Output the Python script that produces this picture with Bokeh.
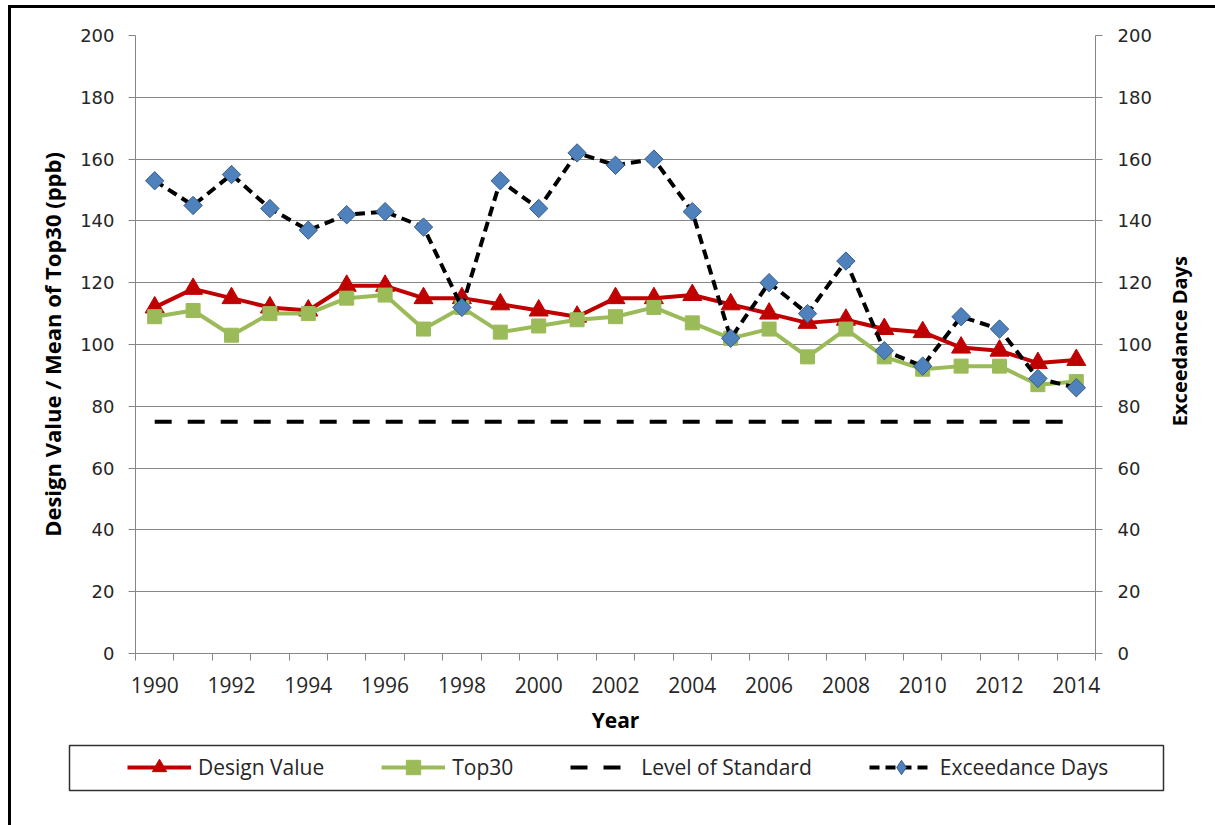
import math
from bokeh.plotting import figure
from bokeh.models import Range1d, LinearAxis, FixedTicker, Legend, LegendItem, Label
from bokeh.layouts import column, row
from bokeh.embed import file_html
from bokeh.resources import INLINE

# ---------------- data ----------------
years = [1990, 1991, 1992, 1993, 1994, 1995, 1996, 1997, 1998, 1999, 2000, 2001, 2002,
         2003, 2004, 2005, 2006, 2007, 2008, 2009, 2010, 2011, 2012, 2013, 2014]
design_value = [112, 118, 115, 112, 111, 119, 119, 115, 115, 113, 111, 109, 115,
                115, 116, 113, 110, 107, 108, 105, 104, 99, 98, 94, 95]
top30 = [109, 111, 103, 110, 110, 115, 116, 105, 112, 104, 106, 108, 109,
         112, 107, 102, 105, 96, 105, 96, 92, 93, 93, 87, 88]
level_of_standard = [75, 75, 75, 75, 75, 75, 75, 75, 75, 75, 75, 75, 75,
                     75, 75, 75, 75, 75, 75, 75, 75, 75, 75, 75, 75]
exceedance_days = [153, 145, 155, 144, 137, 142, 143, 138, 112, 153, 144, 162, 158,
                   160, 143, 102, 120, 110, 127, 98, 93, 109, 105, 89, 86]
label_years = [1990, 1992, 1994, 1996, 1998, 2000, 2002, 2004, 2006, 2008, 2010, 2012, 2014]
tick_labels = ["1990", "1992", "1994", "1996", "1998", "2000", "2002", "2004", "2006",
               "2008", "2010", "2012", "2014"]
y_ticks = [0, 20, 40, 60, 80, 100, 120, 140, 160, 180, 200]
series_names = ["Design Value", "Top30", "Level of Standard", "Exceedance Days"]
left_title = "Design Value / Mean of Top30 (ppb)"
right_title = "Exceedance Days"
x_title = "Year"

# ---------------- style ----------------
RED = "#C00000"
GREEN = "#9BBB59"
BLUE = "#4F81BD"
BLUE_DARK = "#385D8A"
GRAY = "#868686"
TXT = "#262626"
FONT = "Open Sans"

MAIN_W, MAIN_H = 1146, 736
SIDE_W = 58
LEG_H = 81
TOTAL_W = MAIN_W + SIDE_W
FRAME_TOP, FRAME_BOTTOM_BORDER = 27, 91

p = figure(width=MAIN_W, height=MAIN_H,
           x_range=Range1d(years[0] - 0.5, years[-1] + 0.5),
           y_range=Range1d(0, 200),
           output_backend="svg", toolbar_location=None,
           min_border_left=124, min_border_right=62,
           min_border_top=FRAME_TOP, min_border_bottom=FRAME_BOTTOM_BORDER)
p.extra_y_ranges = {"days": Range1d(0, 200)}
p.outline_line_color = None
p.background_fill_color = "white"
p.border_fill_color = "white"

# x axis
xa = p.xaxis[0]
boundaries = [years[0] - 0.5 + i for i in range(len(years) + 1)]
xa.ticker = FixedTicker(ticks=label_years, minor_ticks=boundaries)
xa.major_label_overrides = dict(zip(label_years, tick_labels))
xa.major_tick_line_color = None
xa.major_tick_out = 0
xa.major_tick_in = 0
xa.minor_tick_line_color = GRAY
xa.minor_tick_out = 7
xa.minor_tick_in = 0
xa.axis_line_color = GRAY
xa.major_label_text_font = FONT
xa.major_label_text_font_size = "21px"
xa.major_label_text_color = TXT
xa.major_label_standoff = 16
xa.axis_label = x_title
xa.axis_label_text_font = FONT
xa.axis_label_text_font_style = "bold"
xa.axis_label_text_font_size = "21px"
xa.axis_label_text_color = "black"
xa.axis_label_standoff = 10

# left y axis
ya = p.yaxis[0]
ya.ticker = FixedTicker(ticks=y_ticks)
ya.major_tick_out = 7
ya.major_tick_in = 0
ya.major_tick_line_color = GRAY
ya.minor_tick_line_color = None
ya.axis_line_color = GRAY
ya.major_label_text_font = "DejaVu Sans"
ya.major_label_text_font_size = "18px"
ya.major_label_text_color = TXT
ya.major_label_standoff = 14
ya.axis_label = left_title
ya.axis_label_text_font = FONT
ya.axis_label_text_font_style = "bold"
ya.axis_label_text_font_size = "22px"
ya.axis_label_text_color = "black"
ya.axis_label_standoff = 10

# right y axis (its title is drawn in the side strip so it reads bottom-to-top)
ra = LinearAxis(y_range_name="days", ticker=FixedTicker(ticks=y_ticks))
ra.major_tick_out = 7
ra.major_tick_in = 0
ra.major_tick_line_color = GRAY
ra.minor_tick_line_color = None
ra.axis_line_color = GRAY
ra.major_label_text_font = "DejaVu Sans"
ra.major_label_text_font_size = "18px"
ra.major_label_text_color = TXT
ra.major_label_standoff = 15
p.add_layout(ra, "right")

# grid
p.xgrid.visible = False
p.ygrid.ticker = FixedTicker(ticks=y_ticks)
p.ygrid.grid_line_color = GRAY
p.ygrid.grid_line_width = 1

# series
line_styles = [
    dict(line_color=RED, line_width=4, line_join="round"),
    dict(line_color=GREEN, line_width=4, line_join="round"),
    dict(line_color="black", line_width=4, line_dash="17 16"),
    dict(line_color="black", line_width=4, line_dash="10 6", line_join="round"),
]
tri_style = dict(marker="triangle", size=19, fill_color=RED, line_color=RED)
sq_style = dict(marker="square", size=14, fill_color=GREEN, line_color=GREEN)

r1 = p.line(years, design_value, **line_styles[0])
m1 = p.scatter(years, design_value, **tri_style)
r2 = p.line(years, top30, **line_styles[1])
m2 = p.scatter(years, top30, **sq_style)
r3 = p.line(years, level_of_standard, **line_styles[2])
r4 = p.line(years, exceedance_days, y_range_name="days", **line_styles[3])
m4 = p.scatter(years, exceedance_days, marker="square", angle=math.pi / 4, size=13,
               fill_color=BLUE, line_color=BLUE_DARK, line_width=1, y_range_name="days")

# side strip holding the right-axis title
p3 = figure(width=SIDE_W, height=MAIN_H, x_range=Range1d(0, SIDE_W), y_range=Range1d(0, MAIN_H),
            output_backend="svg", toolbar_location=None, min_border=0,
            x_axis_type=None, y_axis_type=None)
p3.outline_line_color = None
p3.background_fill_color = "white"
p3.border_fill_color = "white"
frame_mid = MAIN_H - (FRAME_TOP + (MAIN_H - FRAME_BOTTOM_BORDER)) / 2.0
p3.add_layout(Label(x=22, y=frame_mid - 28, text=right_title, angle=math.pi / 2,
                    text_align="center", text_baseline="middle",
                    text_font=FONT, text_font_style="bold", text_font_size="20px",
                    text_color="black"))

# legend strip: its frame outline is the legend box; keys share the series styles
p2 = figure(width=TOTAL_W, height=LEG_H, x_range=Range1d(0, 1), y_range=Range1d(0, 1),
            output_backend="svg", toolbar_location=None,
            min_border_left=58, min_border_right=52, min_border_top=1, min_border_bottom=35,
            x_axis_type=None, y_axis_type=None)
p2.outline_line_color = "#303030"
p2.outline_line_width = 1.5
p2.background_fill_color = "white"
p2.border_fill_color = "white"
# key glyphs carry the series values but fall outside this strip's 0..1 ranges
k1 = p2.line(years, design_value, **line_styles[0])
k1m = p2.scatter(years, design_value, **tri_style)
k2 = p2.line(years, top30, **line_styles[1])
k2m = p2.scatter(years, top30, **sq_style)
k3 = p2.line(years, level_of_standard, **line_styles[2])
k4 = p2.line(years, exceedance_days, **line_styles[3])
k4m = p2.scatter(years, exceedance_days, marker="diamond", size=18, fill_color=BLUE,
                 line_color=BLUE_DARK, line_width=1)

legend = Legend(items=[LegendItem(label=series_names[0], renderers=[k1, k1m]),
                       LegendItem(label=series_names[1], renderers=[k2, k2m]),
                       LegendItem(label=series_names[2], renderers=[k3]),
                       LegendItem(label=series_names[3], renderers=[k4, k4m])],
                orientation="horizontal", location=(58, 5),
                glyph_width=64, glyph_height=36, label_standoff=7, spacing=57,
                padding=0, margin=0,
                border_line_color=None, background_fill_alpha=0,
                label_text_font=FONT, label_text_font_size="21px", label_text_color=TXT)
p2.add_layout(legend, "center")

layout = column(row(p, p3, spacing=0), p2, spacing=0)
layout.styles = {"border-left": "3px solid black", "border-top": "3px solid black",
                 "margin-left": "8px", "margin-top": "5px"}

open("out.html", "w").write(file_html(layout, INLINE))
